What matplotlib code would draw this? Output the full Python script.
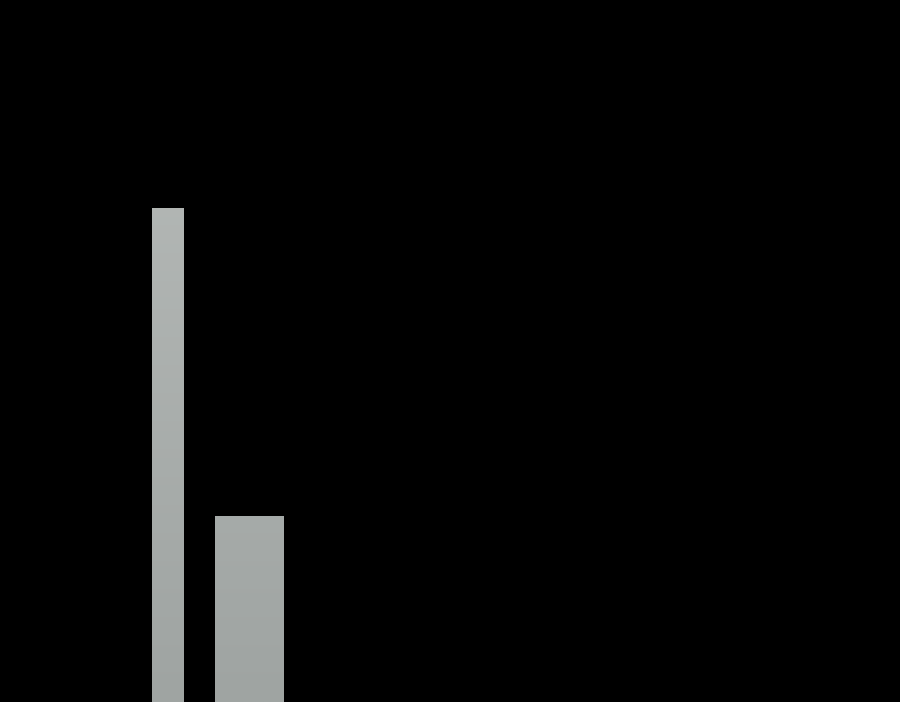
import numpy as np
import matplotlib.pyplot as plt

# two grey bars on black, nothing else visible
categories = ['A', 'B']
values = [494, 186]

centers = [168, 249.5]
widths = [32, 69]

fig = plt.figure(figsize=(9, 7.02), dpi=100)
fig.patch.set_facecolor('black')
ax = fig.add_axes([0, 0, 1, 1])
ax.set_facecolor('black')
ax.set_xlim(0, 900)
ax.set_ylim(0, 702)
ax.axis('off')

bars = ax.bar(centers, values, width=widths, color='#a9aeac', linewidth=0)

# soft vertical gradient, lighter towards the top
grad = np.linspace(0, 1, 256).reshape(-1, 1)
cmap = plt.matplotlib.colors.LinearSegmentedColormap.from_list('g', ['#9fa4a2', '#b9bdbb'])
for b in bars:
    x0, w, h = b.get_x(), b.get_width(), b.get_height()
    im = ax.imshow(grad, extent=[x0, x0 + w, 0, 702], origin='lower',
                   cmap=cmap, aspect='auto', zorder=3)
    im.set_clip_path(b)

fig.savefig('out.png', dpi=100, facecolor='black')
